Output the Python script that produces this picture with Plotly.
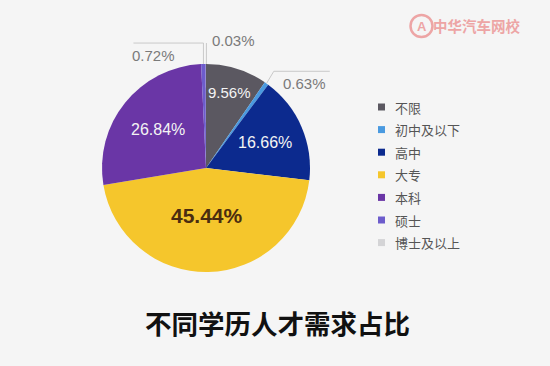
import numpy as np
import plotly.graph_objects as go

categories = ["不限", "初中及以下", "高中", "大专", "本科", "硕士", "博士及以上"]
values = [9.56, 0.63, 16.66, 45.44, 26.84, 0.72, 0.03]
colors = ["#5b5861", "#4a9ae0", "#0c2a8e", "#f5c62c", "#6a36a6", "#6d5ccc", "#d4d4d6"]
title_text = "不同学历人才需求占比"

W, H = 550, 366
cx, cy, r = 206, 168, 104  # pie centre / radius in pixels (screen coords)

fig = go.Figure()
fig.add_trace(go.Pie(
    labels=categories, values=values, sort=False, direction="clockwise", rotation=0,
    marker=dict(colors=colors, line=dict(width=0)),
    textinfo="none",
    domain=dict(x=[(cx - r) / W, (cx + r) / W], y=[1 - (cy + r) / H, 1 - (cy - r) / H]),
    hoverinfo="label+percent", showlegend=False,
))

total = sum(values)
cum = np.cumsum([0] + values[:-1])
mids = [(c + v / 2) / total for c, v in zip(cum, values)]


def px(x):
    return x / W


def py(y):
    return 1 - y / H


def edge(frac, k=1.0):
    th = np.deg2rad(90 - 360 * frac)
    return cx + k * r * np.cos(th), cy - k * r * np.sin(th)


annotations = []
shapes = []

# inside labels (large slices) placed along the slice mid-angle
label_k = {0: 0.76, 2: 0.62, 3: 0.46, 4: 0.59}
label_style = {
    0: dict(size=15, color="#f4f4f4"),
    2: dict(size=16, color="#f4f4f4"),
    3: dict(size=21, color="#4a2c10"),
    4: dict(size=16, color="#f4f4f4"),
}
for i, k in label_k.items():
    x, y = edge(mids[i], k)
    txt = f"{values[i]:.2f}%"
    if i == 3:
        txt = f"<b>{txt}</b>"
    annotations.append(dict(x=px(x), y=py(y), xref="paper", yref="paper", showarrow=False,
                            text=txt, xanchor="center", yanchor="middle",
                            font=dict(family="Liberation Sans", **label_style[i])))

# outside labels with leader lines
line_col = "#c9c9c9"
outside = []

i = 1  # 0.63%
x0, y0 = edge(mids[i])
x1, y1 = edge(mids[i], 1.12)
shapes.append(dict(type="path", xref="paper", yref="paper",
                   path=f"M{px(x0)},{py(y0)} L{px(x1)},{py(y1 - 2)} L{px(x1 + 56)},{py(y1 - 2)}",
                   line=dict(color=line_col, width=1)))
outside.append(dict(x=px(x1 + 31), y=py(y1 + 10), text=f"{values[i]:.2f}%"))

i = 5  # 0.72%
x0, y0 = edge(mids[i])
ytop = y0 - 21
shapes.append(dict(type="path", xref="paper", yref="paper",
                   path=f"M{px(x0)},{py(y0)} L{px(x0)},{py(ytop)} L{px(x0 - 70)},{py(ytop)}",
                   line=dict(color=line_col, width=1)))
outside.append(dict(x=px(x0 - 50), y=py(ytop + 12), text=f"{values[i]:.2f}%"))

i = 6  # 0.03%
x0, y0 = edge(mids[i])
shapes.append(dict(type="path", xref="paper", yref="paper",
                   path=f"M{px(x0 + 0.5)},{py(y0)} L{px(x0 + 0.5)},{py(y0 - 21)}",
                   line=dict(color=line_col, width=1)))
outside.append(dict(x=px(x0 + 28), y=py(y0 - 24), text=f"{values[i]:.2f}%"))

for a in outside:
    a.update(xref="paper", yref="paper", showarrow=False,
             font=dict(size=15, color="#7a7a7a", family="Liberation Sans"),
             xanchor="center", yanchor="middle")
    annotations.append(a)

# legend (squares + labels)
leg_x, leg_y0, leg_dy = 378, 107, 22.6
for j, (name, col) in enumerate(zip(categories, colors)):
    yc = leg_y0 + j * leg_dy
    shapes.append(dict(type="rect", xref="paper", yref="paper",
                       x0=px(leg_x), x1=px(leg_x + 7), y0=py(yc + 3.5), y1=py(yc - 3.5),
                       fillcolor=col, line=dict(width=0)))
    annotations.append(dict(x=px(leg_x + 15), y=py(yc), xref="paper", yref="paper",
                            showarrow=False, text=name, xanchor="left", yanchor="middle",
                            font=dict(size=13, color="#555555", family="Noto Sans CJK SC")))

# title
annotations.append(dict(x=px(277), y=py(322), xref="paper", yref="paper", showarrow=False,
                        text=f"<b>{title_text}</b>", xanchor="center", yanchor="middle",
                        font=dict(size=26.5, color="#111111", family="Noto Sans CJK SC")))
# watermark
annotations.append(dict(x=px(477), y=py(26), xref="paper", yref="paper", showarrow=False,
                        text="<b>中华汽车网校</b>", xanchor="center", yanchor="middle",
                        font=dict(size=14.5, color="#eda5a5", family="Noto Sans CJK SC")))
annotations.append(dict(x=px(421.5), y=py(26.5), xref="paper", yref="paper", showarrow=False,
                        text="<b>A</b>", xanchor="center", yanchor="middle",
                        font=dict(size=13, color="#eda5a5", family="Liberation Sans")))
shapes.append(dict(type="circle", xref="paper", yref="paper",
                   x0=px(410.5), x1=px(432.5), y0=py(37), y1=py(15),
                   line=dict(color="#eda5a5", width=2.5)))

fig.update_layout(
    width=W, height=H, margin=dict(l=0, r=0, t=0, b=0),
    paper_bgcolor="#f5f5f5", plot_bgcolor="#f5f5f5",
    showlegend=False,
    shapes=shapes, annotations=annotations,
)

fig.write_html("out.html", config={"displayModeBar": False},
               post_script="document.body.style.margin='0';document.body.style.background='#f5f5f5';")
